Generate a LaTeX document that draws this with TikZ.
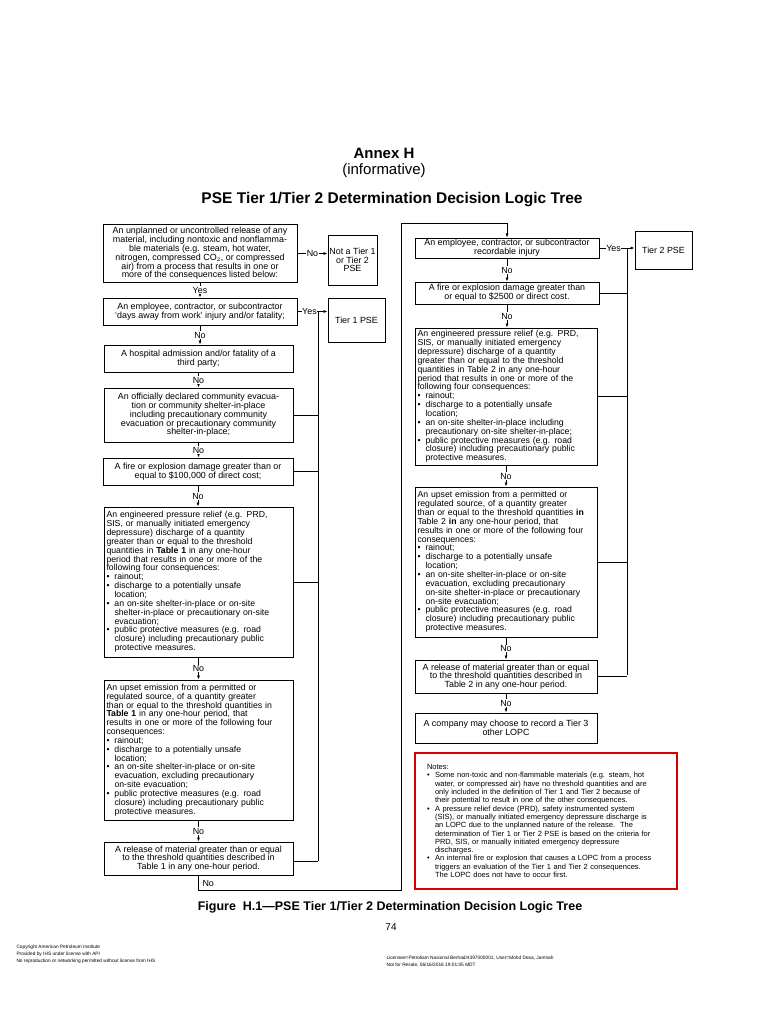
\documentclass[tikz,border=0pt]{standalone}
\usepackage{fontspec}
\setmainfont{Liberation Sans}
\usetikzlibrary{arrows.meta}
\newcommand{\bu}{\makebox[8pt][l]{\textbullet}}
\newcommand{\ind}{\hspace*{8pt}}
\begin{document}
\begin{tikzpicture}[x=1pt,y=-1pt,
  box/.style={draw, line width=1pt, inner sep=1pt, font=\fontsize{8.9}{8.8}\selectfont, align=center},
  lbox/.style={box, align=left, text width=#1, inner xsep=2.5pt, inner ysep=0.5pt, font=\fontsize{8.7}{8.85}\selectfont},
  lbl/.style={fill=white, inner sep=0.6pt, font=\fontsize{8.9}{8.8}\selectfont},
  arr/.style={-{Latex[length=4pt,width=3pt]}, line width=0.7pt},
  ln/.style={line width=0.7pt}]
\useasboundingbox (0,0) rectangle (768,1024);
\fill[white] (0,0) rectangle (768,1024);
% titles
\node[font=\bfseries\fontsize{15}{16}\selectfont] (tA) at (384,153) {Annex H};
\node[font=\fontsize{15}{16}\selectfont] (tB) at (384,171) {(informative)};
\node[font=\bfseries\fontsize{15.5}{17}\selectfont] (tC) at (392,200) {PSE Tier 1/Tier 2 Determination Decision Logic Tree};
% left column
\node[box, minimum width=194, minimum height=57] (b1) at (200,253.5) {An unplanned or uncontrolled release of any\\material, including nontoxic and nonflamma-\\ble materials (e.g. steam, hot water,\\nitrogen, compressed CO$_2$, or compressed\\air) from a process that results in one or\\more of the consequences listed below:};
\node[box, minimum width=49, minimum height=50] (nt) at (352.5,260) {Not a Tier 1\\or Tier 2\\PSE};
\node[box, minimum width=194, minimum height=27] (b2) at (200,311.5) {An employee, contractor, or subcontractor\\`days away from work' injury and/or fatality;};
\node[box, minimum width=57, minimum height=44] (t1) at (356.5,320) {Tier 1 PSE};
\node[box, minimum width=189, minimum height=27] (b3) at (198.5,358.5) {A hospital admission and/or fatality of a\\third party;};
\node[box, minimum width=189, minimum height=54] (b4) at (198.5,415) {An officially declared community evacua-\\tion or community shelter-in-place\\including precautionary community\\evacuation or precautionary community\\shelter-in-place;};
\node[box, minimum width=190, minimum height=27] (b5) at (198,471.5) {A fire or explosion damage greater than or\\equal to \$100,000 of direct cost;};
\node[lbox=184, minimum height=150] (b6) at (198.5,582) {An engineered pressure relief (e.g. PRD,\\SIS, or manually initiated emergency\\depressure) discharge of a quantity\\greater than or equal to the threshold\\quantities in \textbf{Table 1} in any one-hour\\period that results in one or more of the\\following four consequences:\\
\bu rainout;\\\bu discharge to a potentially unsafe\\\ind location;\\\bu an on-site shelter-in-place or on-site\\\ind shelter-in-place or precautionary on-site\\\ind evacuation;\\\bu public protective measures (e.g. road\\\ind closure) including precautionary public\\\ind protective measures.};
\node[lbox=184, minimum height=140] (b7) at (198.5,750) {An upset emission from a permitted or\\regulated source, of a quantity greater\\than or equal to the threshold quantities in\\\textbf{Table 1} in any one-hour period, that\\results in one or more of the following four\\consequences:\\
\bu rainout;\\\bu discharge to a potentially unsafe\\\ind location;\\\bu an on-site shelter-in-place or on-site\\\ind evacuation, excluding precautionary\\\ind on-site evacuation;\\\bu public protective measures (e.g. road\\\ind closure) including precautionary public\\\ind protective measures.};
\node[box, minimum width=189, minimum height=33] (b8) at (198.5,858.5) {A release of material greater than or equal\\to the threshold quantities described in\\Table 1 in any one-hour period.};
% left connectors
\draw[arr] (b1.east) -- node[lbl]{No} (nt.west |- b1.east);
\draw[arr] (b1.south) -- node[lbl]{Yes} (b2.north);
\draw[arr] (b2.east) -- node[lbl, pos=0.4]{Yes} (t1.west |- b2.east);
\draw[arr] (b2.south) -- node[lbl]{No} (b2.south |- b3.north);
\draw[arr] (b3.south) -- node[lbl]{No} (b4.north);
\draw[arr] (b4.south) -- node[lbl]{No} (b4.south |- b5.north);
\draw[arr] (b5.south) -- node[lbl]{No} (b5.south |- b6.north);
\draw[arr] (b6.south) -- node[lbl]{No} (b7.north);
\draw[arr] (b7.south) -- node[lbl]{No} (b8.north);
\coordinate (jt) at (318,311.5);
\coordinate (jb) at (318,861);
\draw[ln] (jt) -- (jb);
\draw[ln] (b4.east) -- (b4.east -| jt);
\draw[ln] (b5.east) -- (b5.east -| jt);
\draw[ln] (b6.east) -- (b6.east -| jt);
\draw[ln] (b8.east |- jb) -- (jb);
% right column
\node[box, minimum width=184, minimum height=20] (r1) at (507,248) {An employee, contractor, or subcontractor\\recordable injury};
\node[box, minimum width=57, minimum height=37] (t2) at (663.5,250.5) {Tier 2 PSE};
\node[box, minimum width=184, minimum height=22] (r2) at (507,293) {A fire or explosion damage greater than\\or equal to \$2500 or direct cost.};
\node[lbox=177, minimum height=137] (r3) at (506,396.5) {An engineered pressure relief (e.g. PRD,\\SIS, or manually initiated emergency\\depressure) discharge of a quantity\\greater than or equal to the threshold\\quantities in Table 2 in any one-hour\\period that results in one or more of the\\following four consequences:\\
\bu rainout;\\\bu discharge to a potentially unsafe\\\ind location;\\\bu an on-site shelter-in-place including\\\ind precautionary on-site shelter-in-place;\\\bu public protective measures (e.g. road\\\ind closure) including precautionary public\\\ind protective measures.};
\node[lbox=177, minimum height=150] (r4) at (506,562) {An upset emission from a permitted or\\regulated source, of a quantity greater\\than or equal to the threshold quantities \textbf{in}\\Table 2 \textbf{in} any one-hour period, that\\results in one or more of the following four\\consequences:\\
\bu rainout;\\\bu discharge to a potentially unsafe\\\ind location;\\\bu an on-site shelter-in-place or on-site\\\ind evacuation, excluding precautionary\\\ind on-site shelter-in-place or precautionary\\\ind on-site evacuation;\\\bu public protective measures (e.g. road\\\ind closure) including precautionary public\\\ind protective measures.};
\node[box, minimum width=182, minimum height=33] (r5) at (506,676.5) {A release of material greater than or equal\\to the threshold quantities described in\\Table 2 in any one-hour period.};
\node[box, minimum width=182, minimum height=30] (r6) at (506,728) {A company may choose to record a Tier 3\\other LOPC};
\draw[arr] (r1.east) -- node[lbl, pos=0.4]{Yes} (t2.west |- r1.east);
\draw[arr] (r1.south) -- node[lbl]{No} (r2.north);
\draw[arr] (r2.south) -- node[lbl]{No} (r2.south |- r3.north);
\draw[arr] (r3.south) -- node[lbl]{No} (r4.north);
\draw[arr] (r4.south) -- node[lbl]{No} (r5.north);
\draw[arr] (r5.south) -- node[lbl]{No} (r6.north);
\coordinate (kt) at (627,248);
\coordinate (kb) at (627,675);
\draw[ln] (kt) -- (kb);
\draw[ln] (r2.east) -- (r2.east -| kt);
\draw[ln] (r3.east) -- (r3.east -| kt);
\draw[ln] (r4.east) -- (r4.east -| kt);
\draw[ln] (r5.east) -- (r5.east -| kt);
% link from left bottom to right top
\coordinate (lo) at (401,890);
\coordinate (hi) at (401,223);
\draw[arr] (b8.south) |- (lo) -- (hi) -| (r1.north);
\node[anchor=west, font=\fontsize{8.9}{8.8}\selectfont] (nolbl) at (199,883) {No};
% notes
\node[draw=red!85!black, line width=1.2pt, minimum width=262, minimum height=136, text width=254, inner sep=3pt, align=left, font=\fontsize{7.5}{8.3}\selectfont] (notes) at (546,821) {\ind Notes:\\
\ind\bu Some non-toxic and non-flammable materials (e.g. steam, hot\\\ind\ind water, or compressed air) have no threshold quantities and are\\\ind\ind only included in the definition of Tier 1 and Tier 2 because of\\\ind\ind their potential to result in one of the other consequences.\\
\ind\bu A pressure relief device (PRD), safety instrumented system\\\ind\ind (SIS), or manually initiated emergency depressure discharge is\\\ind\ind an LOPC due to the unplanned nature of the release.\ \ The\\\ind\ind determination of Tier 1 or Tier 2 PSE is based on the criteria for\\\ind\ind PRD, SIS, or manually initiated emergency depressure\\\ind\ind discharges.\\
\ind\bu An internal fire or explosion that causes a LOPC from a process\\\ind\ind triggers an evaluation of the Tier 1 and Tier 2 consequences.\\\ind\ind The LOPC does not have to occur first.};
% caption and footer
\node[font=\bfseries\fontsize{12.5}{14}\selectfont] (cap) at (390,907) {Figure\ \ H.1---PSE Tier 1/Tier 2 Determination Decision Logic Tree};
\node[font=\fontsize{10}{11}\selectfont] (pg) at (391,927) {74};
\node[anchor=west, align=left, font=\fontsize{4.8}{7}\selectfont] (fl) at (13,954) {Copyright American Petroleum Institute\\Provided by IHS under license with API\\No reproduction or networking permitted without license from IHS};
\node[anchor=west, align=left, font=\fontsize{4.8}{7}\selectfont] (fr) at (383,962) {Licensee=Petroliam Nasional Berhad/4397000001, User=Mohd Desa, Jamnah\\Not for Resale, 06/16/2016 19:01:05 MDT};
\end{tikzpicture}
\end{document}
